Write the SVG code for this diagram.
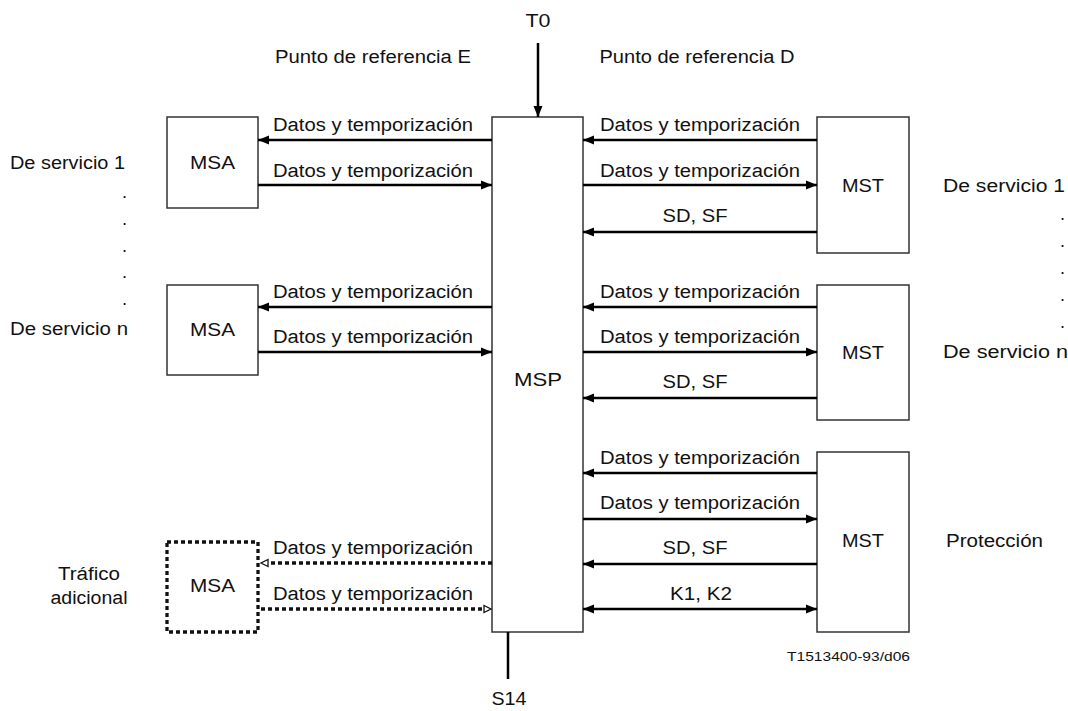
<svg xmlns="http://www.w3.org/2000/svg" width="1068" height="711" viewBox="0 0 1068 711">
  <style>
    text { font-family: "Liberation Sans", Arial, sans-serif; font-size: 18px; fill: #111; }
    .mid { text-anchor: middle; }
    .box { fill: #fff; stroke: #333; stroke-width: 1.5; }
    .dotbox { fill: #fff; stroke: #111; stroke-width: 3.3; stroke-dasharray: 4 3; }
    .ln { stroke: #000; stroke-width: 2.5; fill: none; }
    .dl { stroke: #111; stroke-width: 3.3; stroke-dasharray: 4 3; fill: none; }
    .small { font-size: 13.5px; }
  </style>
  <defs>
    <marker id="ah" markerUnits="userSpaceOnUse" markerWidth="12" markerHeight="10" refX="11" refY="5" orient="auto-start-reverse">
      <path d="M0,0.5 L11,5 L0,9.5 Z" fill="#000"/>
    </marker>
    <marker id="oh" markerUnits="userSpaceOnUse" markerWidth="10" markerHeight="10" refX="8" refY="5" orient="auto-start-reverse">
      <path d="M1,1.5 L8,5 L1,8.5 Z" fill="#fff" stroke="#111" stroke-width="1.3"/>
    </marker>
  </defs>
  <rect width="1068" height="711" fill="#fff"/>

  <!-- reference point labels -->
  <g id="ref-labels">
    <text class="mid" x="538" y="27" textLength="25" lengthAdjust="spacingAndGlyphs">T0</text>
    <text class="mid" x="373" y="63" textLength="196" lengthAdjust="spacingAndGlyphs">Punto de referencia E</text>
    <text class="mid" x="697" y="63" textLength="195" lengthAdjust="spacingAndGlyphs">Punto de referencia D</text>
    <text class="mid" x="509" y="705" textLength="35" lengthAdjust="spacingAndGlyphs">S14</text>
    <text class="small" x="787" y="661" textLength="123" lengthAdjust="spacingAndGlyphs">T1513400-93/d06</text>
  </g>

  <!-- side labels -->
  <g id="side-left">
    <text x="10" y="169" textLength="115" lengthAdjust="spacingAndGlyphs">De servicio 1</text>
    <text x="122" y="198">.</text>
    <text x="122" y="225">.</text>
    <text x="122" y="252">.</text>
    <text x="122" y="278">.</text>
    <text x="122" y="305">.</text>
    <text x="10" y="335" textLength="118" lengthAdjust="spacingAndGlyphs">De servicio n</text>
    <text class="mid" x="89" y="580" textLength="62" lengthAdjust="spacingAndGlyphs">Tráfico</text>
    <text class="mid" x="89" y="604" textLength="77" lengthAdjust="spacingAndGlyphs">adicional</text>
  </g>
  <g id="side-right">
    <text x="943" y="192" textLength="122" lengthAdjust="spacingAndGlyphs">De servicio 1</text>
    <text x="1060" y="220">.</text>
    <text x="1060" y="247">.</text>
    <text x="1060" y="274">.</text>
    <text x="1060" y="301">.</text>
    <text x="1060" y="328">.</text>
    <text x="943" y="358" textLength="125" lengthAdjust="spacingAndGlyphs">De servicio n</text>
    <text x="946" y="547" textLength="97" lengthAdjust="spacingAndGlyphs">Protección</text>
  </g>

  <!-- nodes -->
  <g id="msp">
    <rect class="box" x="492" y="117" width="91" height="515"/>
    <text class="mid" x="538" y="386" textLength="48" lengthAdjust="spacingAndGlyphs">MSP</text>
  </g>
  <g id="msa-1">
    <rect class="box" x="167" y="117" width="91" height="91"/>
    <text class="mid" x="212.5" y="169" textLength="45" lengthAdjust="spacingAndGlyphs">MSA</text>
  </g>
  <g id="msa-n">
    <rect class="box" x="167" y="285" width="91" height="90"/>
    <text class="mid" x="212.5" y="336" textLength="45" lengthAdjust="spacingAndGlyphs">MSA</text>
  </g>
  <g id="msa-extra">
    <rect class="dotbox" x="167" y="542" width="91" height="90"/>
    <text class="mid" x="212.5" y="592" textLength="45" lengthAdjust="spacingAndGlyphs">MSA</text>
  </g>
  <g id="mst-1">
    <rect class="box" x="817" y="117" width="92" height="136"/>
    <text class="mid" x="863" y="192" textLength="42" lengthAdjust="spacingAndGlyphs">MST</text>
  </g>
  <g id="mst-n">
    <rect class="box" x="817" y="285" width="92" height="135"/>
    <text class="mid" x="863" y="359" textLength="42" lengthAdjust="spacingAndGlyphs">MST</text>
  </g>
  <g id="mst-prot">
    <rect class="box" x="817" y="452" width="92" height="180"/>
    <text class="mid" x="863" y="547" textLength="42" lengthAdjust="spacingAndGlyphs">MST</text>
  </g>

  <!-- connectors -->
  <g id="connectors">
    <line class="ln" x1="538" y1="43" x2="538" y2="117" marker-end="url(#ah)"/>
    <line class="ln" x1="508" y1="632" x2="508" y2="679"/>

    <!-- MSA 1 -->
    <line class="ln" x1="492" y1="140" x2="258" y2="140" marker-end="url(#ah)"/>
    <line class="ln" x1="258" y1="185" x2="492" y2="185" marker-end="url(#ah)"/>
    <!-- MSA n -->
    <line class="ln" x1="492" y1="307" x2="258" y2="307" marker-end="url(#ah)"/>
    <line class="ln" x1="258" y1="352" x2="492" y2="352" marker-end="url(#ah)"/>
    <!-- extra traffic MSA -->
    <line class="dl" x1="492" y1="563" x2="261" y2="563" marker-end="url(#oh)"/>
    <line class="dl" x1="261" y1="609" x2="491" y2="609" marker-end="url(#oh)"/>

    <!-- MST 1 -->
    <line class="ln" x1="817" y1="140" x2="583" y2="140" marker-end="url(#ah)"/>
    <line class="ln" x1="583" y1="185" x2="817" y2="185" marker-end="url(#ah)"/>
    <line class="ln" x1="817" y1="232" x2="583" y2="232" marker-end="url(#ah)"/>
    <!-- MST n -->
    <line class="ln" x1="817" y1="307" x2="583" y2="307" marker-end="url(#ah)"/>
    <line class="ln" x1="583" y1="352" x2="817" y2="352" marker-end="url(#ah)"/>
    <line class="ln" x1="817" y1="398" x2="583" y2="398" marker-end="url(#ah)"/>
    <!-- MST protection -->
    <line class="ln" x1="817" y1="473" x2="583" y2="473" marker-end="url(#ah)"/>
    <line class="ln" x1="583" y1="519" x2="817" y2="519" marker-end="url(#ah)"/>
    <line class="ln" x1="817" y1="564" x2="583" y2="564" marker-end="url(#ah)"/>
    <line class="ln" x1="583" y1="609" x2="817" y2="609" marker-start="url(#ah)" marker-end="url(#ah)"/>

    <!-- connector labels -->
    <text class="mid" x="373" y="131" textLength="200" lengthAdjust="spacingAndGlyphs">Datos y temporización</text>
    <text class="mid" x="373" y="177" textLength="200" lengthAdjust="spacingAndGlyphs">Datos y temporización</text>
    <text class="mid" x="373" y="298" textLength="200" lengthAdjust="spacingAndGlyphs">Datos y temporización</text>
    <text class="mid" x="373" y="343" textLength="200" lengthAdjust="spacingAndGlyphs">Datos y temporización</text>
    <text class="mid" x="373" y="554" textLength="200" lengthAdjust="spacingAndGlyphs">Datos y temporización</text>
    <text class="mid" x="373" y="600" textLength="200" lengthAdjust="spacingAndGlyphs">Datos y temporización</text>

    <text class="mid" x="700" y="131" textLength="200" lengthAdjust="spacingAndGlyphs">Datos y temporización</text>
    <text class="mid" x="700" y="177" textLength="200" lengthAdjust="spacingAndGlyphs">Datos y temporización</text>
    <text class="mid" x="695" y="222" textLength="65" lengthAdjust="spacingAndGlyphs">SD, SF</text>
    <text class="mid" x="700" y="298" textLength="200" lengthAdjust="spacingAndGlyphs">Datos y temporización</text>
    <text class="mid" x="700" y="343" textLength="200" lengthAdjust="spacingAndGlyphs">Datos y temporización</text>
    <text class="mid" x="695" y="388" textLength="65" lengthAdjust="spacingAndGlyphs">SD, SF</text>
    <text class="mid" x="700" y="464" textLength="200" lengthAdjust="spacingAndGlyphs">Datos y temporización</text>
    <text class="mid" x="700" y="509" textLength="200" lengthAdjust="spacingAndGlyphs">Datos y temporización</text>
    <text class="mid" x="695" y="554" textLength="65" lengthAdjust="spacingAndGlyphs">SD, SF</text>
    <text class="mid" x="701" y="600" textLength="62" lengthAdjust="spacingAndGlyphs">K1, K2</text>
  </g>
</svg>
